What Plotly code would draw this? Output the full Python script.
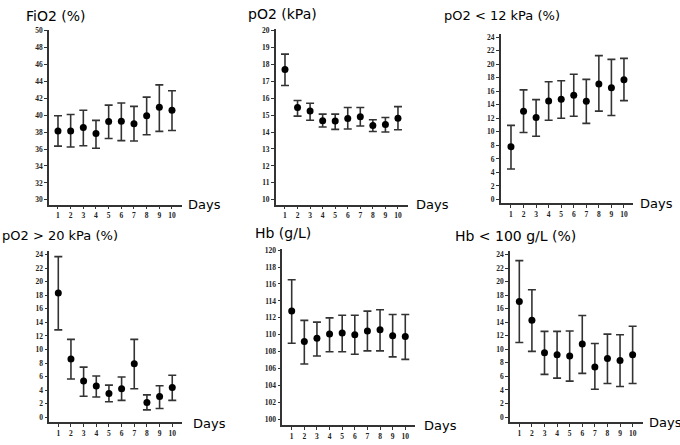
import plotly.graph_objects as go

# dias de observação
dias = [1, 2, 3, 4, 5, 6, 7, 8, 9, 10]

# FiO2 (%)
fio2 = [38.15, 38.15, 38.55, 37.85, 39.25, 39.3, 39.0, 39.95, 40.95, 40.6]
fio2_sup = [39.95, 40.1, 40.6, 39.4, 41.2, 41.45, 41.05, 42.15, 43.6, 42.9]
fio2_inf = [36.35, 36.25, 36.4, 36.1, 37.25, 37.0, 36.95, 37.7, 38.1, 38.2]

# pO2 (kPa)
po2 = [17.7, 15.45, 15.25, 14.67, 14.65, 14.8, 14.9, 14.38, 14.45, 14.82]
po2_sup = [18.6, 15.86, 15.7, 15.06, 15.06, 15.45, 15.45, 14.73, 14.86, 15.5]
po2_inf = [16.75, 14.94, 14.7, 14.3, 14.16, 14.18, 14.36, 14.03, 14.0, 14.14]

# pO2 < 12 kPa (%)
po2_baixo = [7.8, 13.05, 12.1, 14.55, 14.8, 15.4, 14.5, 17.05, 16.5, 17.7]
po2_baixo_sup = [10.95, 16.2, 14.75, 17.4, 17.55, 18.5, 17.75, 21.25, 20.7, 20.85]
po2_baixo_inf = [4.5, 9.9, 9.35, 11.7, 12.0, 12.3, 11.25, 13.05, 12.4, 14.6]

# pO2 > 20 kPa (%)
po2_alto = [18.35, 8.6, 5.35, 4.6, 3.5, 4.2, 7.9, 2.2, 3.05, 4.4]
po2_alto_sup = [23.7, 11.5, 7.4, 6.1, 4.75, 5.95, 11.5, 3.3, 4.65, 6.2]
po2_alto_inf = [12.9, 5.65, 3.1, 3.0, 2.3, 2.5, 4.2, 1.1, 1.3, 2.5]

# Hb (g/L)
hb = [112.8, 109.2, 109.6, 110.1, 110.2, 110.0, 110.45, 110.6, 109.9, 109.8]
hb_sup = [116.5, 111.7, 111.5, 112.0, 112.3, 112.3, 112.8, 112.95, 112.4, 112.4]
hb_inf = [109.0, 106.55, 107.5, 108.0, 108.0, 107.7, 108.1, 108.1, 107.4, 107.1]

# Hb < 100 g/L (%)
hb_baixo = [17.05, 14.3, 9.5, 9.2, 9.0, 10.8, 7.4, 8.65, 8.35, 9.2]
hb_baixo_sup = [23.1, 18.8, 12.65, 12.65, 12.7, 15.0, 10.85, 12.25, 12.15, 13.4]
hb_baixo_inf = [11.0, 9.7, 6.3, 5.75, 5.3, 6.45, 4.1, 4.95, 4.5, 4.95]

W, H = 680, 445

paineis = [
    # titulo, media, sup, inf, caixa em px (x0, x1, ytopo, ybase), faixa x, faixa y, ticks y
    ("FiO2 (%)", fio2, fio2_sup, fio2_inf, (49, 182, 26, 203), [0.29, 10.79], [29.42, 50.12], list(range(30, 51, 2))),
    ("pO2 (kPa)", po2, po2_sup, po2_inf, (275.7, 408, 25.7, 203), [0.26, 10.8], [9.71, 20.06], list(range(10, 21, 1))),
    ("pO2 < 12 kPa (%)", po2_baixo, po2_baixo_sup, po2_baixo_inf, (500.7, 633, 30, 201.7), [0.18, 10.72], [-0.58, 24.5], list(range(0, 25, 2))),
    ("pO2 > 20 kPa (%)", po2_alto, po2_alto_sup, po2_alto_inf, (49.3, 182, 250, 423), [0.29, 10.77], [-0.73, 24.5], list(range(0, 25, 2))),
    ("Hb (g/L)", hb, hb_sup, hb_inf, (282.3, 415, 248, 425.7), [0.255, 10.77], [99.37, 120.1], list(range(100, 121, 2))),
    ("Hb < 100 g/L (%)", hb_baixo, hb_baixo_sup, hb_baixo_inf, (510, 642.7, 250, 422.7), [0.26, 10.8], [-0.73, 24.5], list(range(0, 25, 2))),
]

# posições dos títulos (x em px, y em px, tamanho da fonte) e do rótulo "Days"
titulos_pos = [(24, 12, 14), (245.7, 10, 14), (442, 12, 13),
               (0, 234, 13), (253, 232, 14), (453, 235, 14)]
days_pos = [(186, 203), (414, 203), (638, 202), (191, 424), (422, 426), (646.5, 423)]

fig = go.Figure()
layout = {}
annots = []
fonte_tick = dict(family="Liberation Serif", size=7.5, color="#222", weight="bold")

for i, (titulo, media, sup, inf, caixa, fx, fy, ticks_y) in enumerate(paineis):
    n = i + 1
    sx = "" if n == 1 else str(n)
    x0, x1, yt, yb = caixa
    fig.add_trace(go.Scatter(
        x=dias, y=media, mode="markers",
        marker=dict(color="black", size=7),
        error_y=dict(type="data", symmetric=False,
                     array=[s - m for s, m in zip(sup, media)],
                     arrayminus=[m - b for m, b in zip(media, inf)],
                     color="#333", thickness=1.6, width=4),
        xaxis="x" + sx, yaxis="y" + sx, showlegend=False, cliponaxis=False,
    ))
    layout["xaxis" + sx] = dict(
        domain=[x0 / W, x1 / W], range=fx, anchor="y" + sx,
        tickvals=dias, showgrid=False, zeroline=False,
        showline=True, linecolor="#333", linewidth=1.5,
        ticks="outside", ticklen=3, tickcolor="#333", tickfont=fonte_tick,
    )
    layout["yaxis" + sx] = dict(
        domain=[1 - yb / H, 1 - yt / H], range=fy, anchor="x" + sx,
        tickvals=ticks_y, showgrid=False, zeroline=False,
        showline=True, linecolor="#333", linewidth=1.5,
        ticks="outside", ticklen=3, tickcolor="#333", tickfont=fonte_tick,
    )
    tx, ty, tam = titulos_pos[i]
    annots.append(dict(text=titulo, x=tx / W, y=1 - ty / H, xref="paper", yref="paper",
                       xanchor="left", yanchor="middle", showarrow=False,
                       font=dict(family="DejaVu Sans", size=tam, color="black")))
    dx, dy = days_pos[i]
    annots.append(dict(text="Days", x=dx / W, y=1 - dy / H, xref="paper", yref="paper",
                       xanchor="left", yanchor="middle", showarrow=False,
                       font=dict(family="DejaVu Sans", size=13, color="black")))

fig.update_layout(**layout)
fig.update_layout(
    width=W, height=H, margin=dict(l=0, r=0, t=0, b=0),
    paper_bgcolor="white", plot_bgcolor="white",
    annotations=annots,
)

# tira a margem padrão do body para a figura ocupar a janela toda
fig.write_html("out.html", config={"displayModeBar": False},
               post_script="document.body.style.margin='0';")
